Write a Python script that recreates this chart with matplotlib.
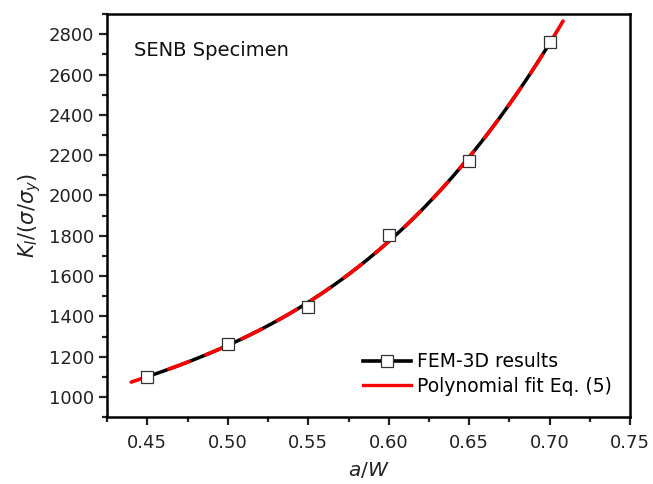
import numpy as np
import matplotlib.pyplot as plt

plt.rcParams['font.family'] = ['DejaVu Sans']
plt.rcParams['mathtext.fontset'] = 'custom'
plt.rcParams['mathtext.rm'] = 'DejaVu Sans'
plt.rcParams['mathtext.it'] = 'DejaVu Sans:italic'

# FEM-3D results
a_w = [0.45, 0.50, 0.55, 0.60, 0.65, 0.70]
k_fem = [1100, 1265, 1445, 1805, 2170, 2760]

# range of the polynomial fit curve
fit_lo, fit_hi = 0.44, 0.71

fig = plt.figure(figsize=(6.53, 4.84), dpi=100)
ax = fig.add_axes([0.164, 0.138, 0.801, 0.833])

# smooth connecting line through FEM points
coef = np.polyfit(a_w, k_fem, 3)
xs = np.linspace(a_w[0], a_w[-1], 300)
ax.plot(xs, np.polyval(coef, xs), color='black', lw=2.5, zorder=2)
ax.plot(a_w, k_fem, ls='none', marker='s', ms=8, mfc='white', mec='#333333',
        mew=0.9, zorder=4)

# polynomial fit, Eq. (5)
xf = np.linspace(fit_lo, fit_hi, 300)
ax.plot(xf, np.polyval(coef, xf), color='red', lw=2.6, dashes=(6, 5),
        dash_capstyle='round', zorder=3)

# legend handles
ax.plot([], [], color='black', lw=2.6, marker='s', ms=8, mfc='white',
        mec='#333333', mew=0.9, label='FEM-3D results')
ax.plot([], [], color='red', lw=2.4, label='Polynomial fit Eq. (5)')
ax.legend(loc='lower right', bbox_to_anchor=(0.99, 0.02), frameon=False,
          fontsize=13.5, handlelength=2.6, handletextpad=0.3, labelspacing=0.3,
          borderpad=0.2)

ax.set_xlim(0.425, 0.75)
ax.set_ylim(900, 2900)
ax.set_xticks(np.arange(0.45, 0.751, 0.05))
ax.set_xticks(np.arange(0.425, 0.751, 0.025), minor=True)
ax.set_yticks(np.arange(1000, 2801, 200))
ax.set_yticks(np.arange(900, 2901, 100), minor=True)
ax.xaxis.set_major_formatter(plt.FormatStrFormatter('%.2f'))

ax.tick_params(which='both', direction='out', width=1.6, labelsize=13,
               colors='#222222', labelcolor='#222222')
ax.tick_params(which='major', length=6)
ax.tick_params(which='minor', length=3.5)
ax.tick_params(axis='x', pad=6)
for s in ax.spines.values():
    s.set_linewidth(1.8)

ax.set_xlabel(r'$a/W$', fontsize=14.5, labelpad=6, color='#222222')
ax.set_ylabel(r'$K_I/(\sigma/\sigma_y)$', fontsize=15, labelpad=4,
              color='#222222')
ax.text(0.052, 0.91, 'SENB Specimen', transform=ax.transAxes, fontsize=14,
        va='center', color='#111111')

fig.savefig('out.png', dpi=100, facecolor='white')
